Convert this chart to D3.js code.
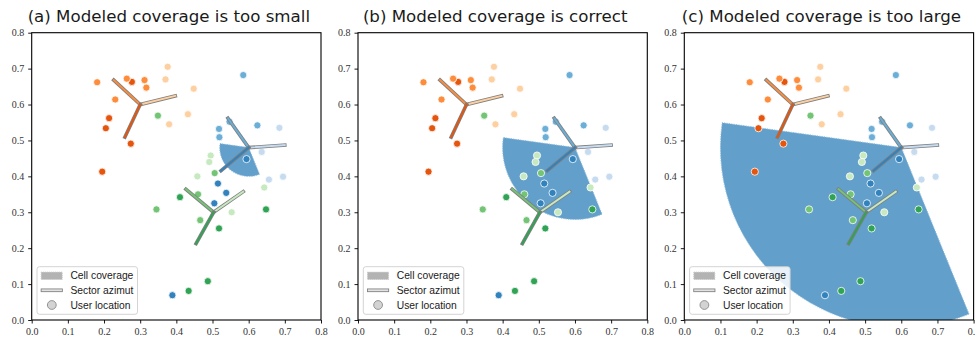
<!DOCTYPE html>
<html>
<head>
<meta charset="utf-8">
<script src="https://cdn.jsdelivr.net/npm/d3@7"></script>
<style>
  body { margin: 0; background: #fff; }
  svg { display: block; }
</style>
</head>
<body>
<svg id="chart" width="975" height="338"></svg>
<script>
// ---- data -----------------------------------------------------------------
const panelTitles = [
  "(a) Modeled coverage is too small",
  "(b) Modeled coverage is correct",
  "(c) Modeled coverage is too large"
];
// modeled coverage of one cell (site 1, dark sector), radius per panel
const coverageRadius = [0.08, 0.2, 0.5];
const coverageSite = 1;
const coverageAzimuth = 218;   // degrees, clockwise from north
const coverageBeamwidth = 120; // degrees

// antenna sites
const siteX = [0.3, 0.6, 0.503];
const siteY = [0.6, 0.48, 0.3];
// sector azimuths per site: [dark, medium, light] sector
const sectorAzimuth = [
  [205, 313, 76],
  [230, 325, 86],
  [209, 310, 55]
];
const sectorLength = 0.1;

// user locations and the cell (site, sector) serving each one
const userX = [
  0.277, 0.214, 0.205, 0.274, 0.195,
  0.181, 0.263, 0.312, 0.317, 0.231,
  0.376, 0.370, 0.448, 0.432, 0.380,
  0.594, 0.515, 0.538, 0.505, 0.389,
  0.585, 0.518, 0.519, 0.547, 0.624,
  0.685, 0.636, 0.656, 0.695,
  0.410, 0.518, 0.648, 0.487, 0.434,
  0.349, 0.506, 0.460, 0.345, 0.466,
  0.495, 0.491, 0.458, 0.553, 0.643
];
const userY = [
  0.663, 0.562, 0.534, 0.491, 0.413,
  0.662, 0.672, 0.668, 0.647, 0.614,
  0.705, 0.670, 0.644, 0.573, 0.545,
  0.448, 0.380, 0.354, 0.325, 0.069,
  0.682, 0.532, 0.509, 0.552, 0.542,
  0.535, 0.468, 0.391, 0.399,
  0.342, 0.255, 0.308, 0.108, 0.081,
  0.569, 0.409, 0.350, 0.308, 0.278,
  0.458, 0.440, 0.400, 0.300, 0.369
];
const userSite = [
  0,0,0,0,0, 0,0,0,0,0, 0,0,0,0,0,
  1,1,1,1,1, 1,1,1,1,1, 1,1,1,1,
  2,2,2,2,2, 2,2,2,2,2, 2,2,2,2,2
];
const userSector = [
  0,0,0,0,0, 1,1,1,1,1, 2,2,2,2,2,
  0,0,0,0,0, 1,1,1,1,1, 2,2,2,2,
  0,0,0,0,0, 1,1,1,1,1, 2,2,2,2,2
];

const tickValues = [0, 0.1, 0.2, 0.3, 0.4, 0.5, 0.6, 0.7, 0.8];
const legendLabels = ["Cell coverage", "Sector azimut", "User location"];

// ---- styling ----------------------------------------------------------------
const shades = [
  ["#e6550d", "#fd8d3c", "#fdd0a2"],
  ["#3182bd", "#6baed6", "#c6dbef"],
  ["#31a354", "#74c476", "#c7e9c0"]
];
const coverageColor = "#629fca";

const svg = d3.select("#chart");
const axLeft0 = 31.7, axStep = 326.3, axTop = 32.7, axW = 289.3, axH = 287.3;
const rad = Math.PI / 180;

panelTitles.forEach((title, i) => {
  const left = axLeft0 + i * axStep;
  const g = svg.append("g").attr("transform", `translate(${left},${axTop})`);
  const x = d3.scaleLinear().domain([0, 0.8]).range([0, axW]);
  const y = d3.scaleLinear().domain([0, 0.8]).range([axH, 0]);

  const clipId = "clip" + i;
  svg.append("clipPath").attr("id", clipId)
    .append("rect").attr("x", left).attr("y", axTop).attr("width", axW).attr("height", axH);

  const plot = g.append("g")
    .attr("clip-path", `url(#${clipId})`)
    .attr("transform", `translate(${-left},${-axTop})`)
    .append("g").attr("transform", `translate(${left},${axTop})`);

  // modeled coverage wedge
  const kx = x(1) - x(0), ky = y(0) - y(1);
  const arc = d3.arc()
    .innerRadius(0)
    .outerRadius(coverageRadius[i] * kx)
    .startAngle((coverageAzimuth - coverageBeamwidth / 2) * rad)
    .endAngle((coverageAzimuth + coverageBeamwidth / 2) * rad);
  plot.append("path")
    .attr("d", arc())
    .attr("transform", `translate(${x(siteX[coverageSite])},${y(siteY[coverageSite])}) scale(1,${ky / kx})`)
    .attr("fill", coverageColor)
    .attr("stroke", "#8dbbdc")
    .attr("stroke-width", 1)
    .attr("stroke-dasharray", "1.2,1.2")
    .attr("vector-effect", "non-scaling-stroke");

  // user locations
  plot.selectAll("circle.user")
    .data(userX.map((v, k) => k))
    .join("circle")
    .attr("class", "user")
    .attr("cx", k => x(userX[k]))
    .attr("cy", k => y(userY[k]))
    .attr("r", 3.6)
    .attr("fill", k => shades[userSite[k]][userSector[k]])
    .attr("stroke", "#fff")
    .attr("stroke-width", 0.8);

  // sector azimuth lines (grey outline under a coloured core)
  siteX.forEach((sx, s) => {
    const sy = siteY[s];
    [2, 1, 0].forEach(k => {
      const az = sectorAzimuth[s][k] * rad;
      const ex = sx + sectorLength * Math.sin(az);
      const ey = sy + sectorLength * Math.cos(az);
      [["#7f7f7f", 3.6], [shades[s][k], 1.9]].forEach(([c, w]) => {
        plot.append("line")
          .attr("x1", x(sx)).attr("y1", y(sy))
          .attr("x2", x(ex)).attr("y2", y(ey))
          .attr("stroke", c)
          .attr("stroke-width", w)
          .attr("stroke-linecap", "square");
      });
    });
  });

  // axes
  const fmt = d3.format(".1f");
  const xAxis = g.append("g").attr("transform", `translate(0,${axH})`)
    .call(d3.axisBottom(x).tickValues(tickValues).tickFormat(fmt).tickSize(3.5).tickPadding(4));
  const yAxis = g.append("g")
    .call(d3.axisLeft(y).tickValues(tickValues).tickFormat(fmt).tickSize(3.5).tickPadding(4));
  [xAxis, yAxis].forEach(a => {
    a.select(".domain").remove();
    a.selectAll(".tick line").attr("stroke", "#000").attr("stroke-width", 0.9);
    a.selectAll(".tick text")
      .attr("fill", "#333")
      .style("font-family", "'Liberation Serif', 'DejaVu Serif', serif")
      .style("font-size", "10px");
  });

  // frame
  g.append("rect")
    .attr("width", axW).attr("height", axH)
    .attr("fill", "none").attr("stroke", "#000").attr("stroke-width", 1.1);

  // title
  svg.append("text")
    .attr("x", left + axW / 2 - 7.5)
    .attr("y", 21.5)
    .attr("text-anchor", "middle")
    .attr("fill", "#1a1a1a")
    .style("font-family", "'DejaVu Sans', sans-serif")
    .style("font-size", "16.67px")
    .text(title);

  // legend
  const lg = g.append("g").attr("transform", `translate(5.3,${266.7 - axTop})`);
  lg.append("rect")
    .attr("width", 100.5).attr("height", 47.6).attr("rx", 2.5)
    .attr("fill", "#fff").attr("fill-opacity", 0.85)
    .attr("stroke", "#cfcfcf").attr("stroke-width", 0.9);
  const rowY = [9.1, 23.6, 38.3];
  lg.append("rect")
    .attr("x", 4.2).attr("y", rowY[0] - 3.7).attr("width", 21).attr("height", 7.4)
    .attr("fill", "#b3b3b3")
    .attr("stroke", "#c8c8c8").attr("stroke-width", 1).attr("stroke-dasharray", "1,1");
  [["#7f7f7f", 3.6], ["#e2e2e2", 1.9]].forEach(([c, w]) => {
    lg.append("line")
      .attr("x1", 5.5).attr("x2", 24)
      .attr("y1", rowY[1]).attr("y2", rowY[1])
      .attr("stroke", c).attr("stroke-width", w).attr("stroke-linecap", "square");
  });
  lg.append("circle")
    .attr("cx", 14.8).attr("cy", rowY[2]).attr("r", 4.4)
    .attr("fill", "#d3d3d3").attr("stroke", "#8a8a8a").attr("stroke-width", 0.9);
  lg.selectAll("text.lab")
    .data(legendLabels)
    .join("text")
    .attr("class", "lab")
    .attr("x", 33.4)
    .attr("y", (d, k) => rowY[k])
    .attr("dy", "0.35em")
    .attr("fill", "#1a1a1a")
    .style("font-family", "'Liberation Sans', Arial, sans-serif")
    .style("font-size", "10.3px")
    .text(d => d);
});
</script>
</body>
</html>
